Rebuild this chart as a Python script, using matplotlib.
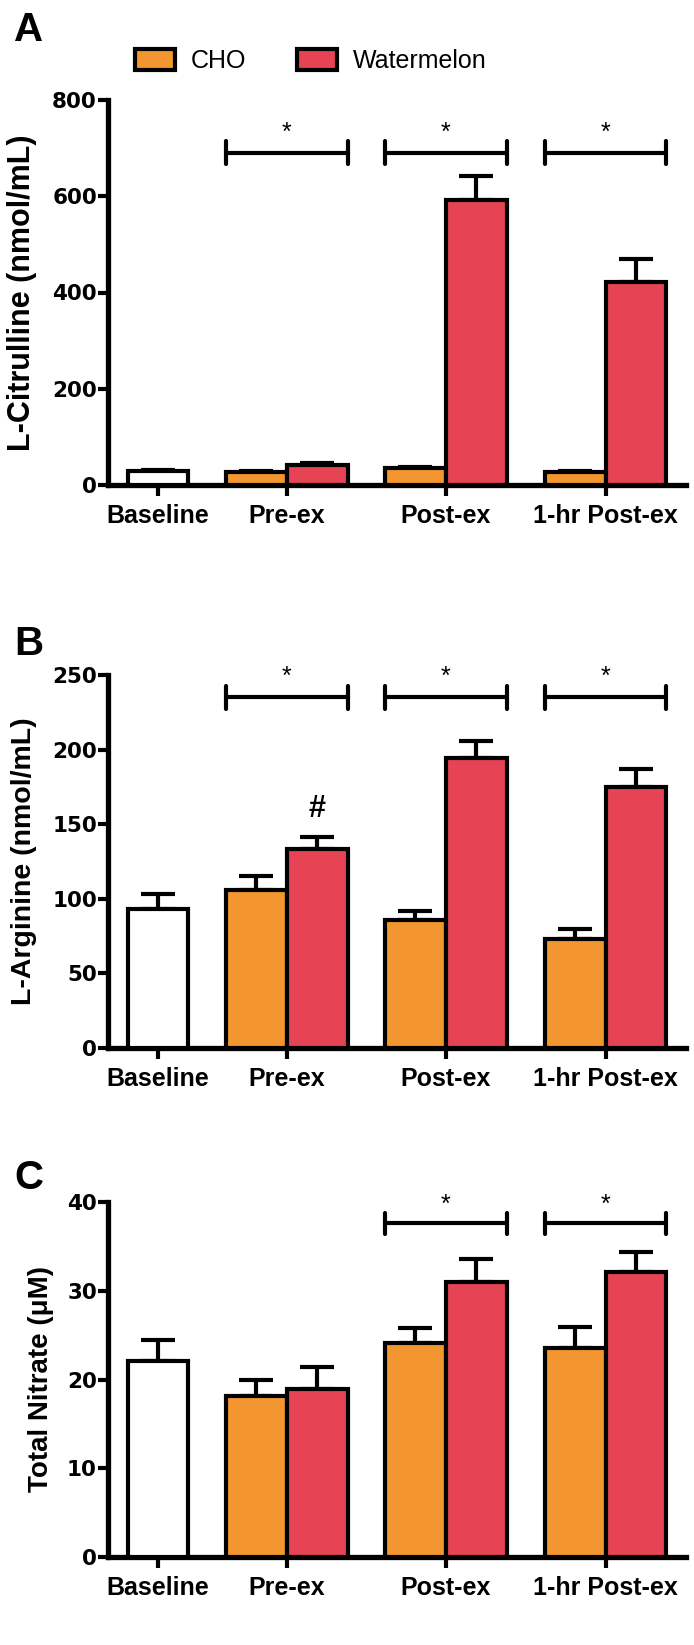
import matplotlib.pyplot as plt
from matplotlib.patches import Patch

plt.rcParams['font.family'] = ['Liberation Sans', 'DejaVu Sans']

groups = ['Baseline', 'Pre-ex', 'Post-ex', '1-hr Post-ex']
series = ['CHO', 'Watermelon']

# L-Citrulline (nmol/mL)
cit_base, cit_base_err = 30, 2
cit_cho = [28, 35, 27]
cit_cho_err = [2, 3, 2]
cit_wm = [41, 592, 422]
cit_wm_err = [4, 50, 48]

# L-Arginine (nmol/mL)
arg_base, arg_base_err = 93, 10
arg_cho = [106, 86, 73]
arg_cho_err = [9, 5.5, 6.5]
arg_wm = [133.5, 194.5, 175]
arg_wm_err = [8, 11.5, 12]

# Total Nitrate (uM)
nit_base, nit_base_err = 22.1, 2.4
nit_cho = [18.1, 24.1, 23.6]
nit_cho_err = [1.8, 1.7, 2.3]
nit_wm = [18.9, 31.0, 32.1]
nit_wm_err = [2.5, 2.6, 2.3]

cho_color = '#F3962F'
wm_color = '#E64454'

# group centres in bar-width units
xpos = [0, 2.115, 4.72, 7.34]
lw = 3.0
W, H = 694, 1645


def panel(ax, base, base_err, cho, cho_err, wm, wm_err, ymax, yticks,
          ylabel, sig_groups, bracket_y, star_y, ylabel_size, ylabel_x):
    ax.bar(xpos[0], base, width=1, color='white', edgecolor='black',
           linewidth=lw, zorder=3)
    ax.errorbar(xpos[0], base, yerr=[[0], [base_err]], fmt='none',
                ecolor='black', elinewidth=lw, capsize=12, capthick=lw, zorder=2)
    gx = xpos[1:]
    cx = [g - 0.5 for g in gx]
    wx = [g + 0.5 for g in gx]
    ax.bar(cx, cho, width=1, color=cho_color, edgecolor='black',
           linewidth=lw, zorder=3)
    ax.bar(wx, wm, width=1, color=wm_color, edgecolor='black',
           linewidth=lw, zorder=3)
    ax.errorbar(cx, cho, yerr=[[0] * 3, cho_err], fmt='none', ecolor='black',
                elinewidth=lw, capsize=12, capthick=lw, zorder=2)
    ax.errorbar(wx, wm, yerr=[[0] * 3, wm_err], fmt='none', ecolor='black',
                elinewidth=lw, capsize=12, capthick=lw, zorder=2)

    cap = ymax * 0.03
    for i in sig_groups:
        x0, x1 = xpos[i] - 1, xpos[i] + 1
        ax.plot([x0, x1], [bracket_y, bracket_y], color='black', lw=lw,
                solid_capstyle='butt', clip_on=False)
        for xx in (x0, x1):
            ax.plot([xx, xx], [bracket_y - cap, bracket_y + cap], color='black',
                    lw=lw, solid_capstyle='round', clip_on=False)
        ax.text(xpos[i], star_y, '*', ha='center', va='center', fontsize=18)

    ax.set_xlim(-0.82, 8.66)
    ax.set_ylim(0, ymax)
    ax.set_yticks(yticks)
    ax.set_xticks(xpos)
    ax.set_xticklabels(groups, fontsize=18, fontweight='bold')
    for t in ax.get_yticklabels():
        t.set_fontsize(15.5)
        t.set_fontweight('bold')
        t.set_family('DejaVu Sans')
    ax.set_ylabel(ylabel, fontsize=ylabel_size, fontweight='bold')
    ax.yaxis.set_label_coords((ylabel_x - 108) / 578, 0.5)
    for s in ['top', 'right']:
        ax.spines[s].set_visible(False)
    for s in ['left', 'bottom']:
        ax.spines[s].set_linewidth(3.8)
    ax.tick_params(axis='y', direction='out', length=7, width=3, pad=1)
    ax.tick_params(axis='x', direction='out', length=8, width=3, pad=6)


fig = plt.figure(figsize=(6.94, 16.45), dpi=100)


def add_axes(top, bottom):
    return fig.add_axes([108 / W, 1 - bottom / H, 578 / W, (bottom - top) / H])


axA = add_axes(100, 485)
axB = add_axes(675, 1048)
axC = add_axes(1202, 1557)

panel(axA, cit_base, cit_base_err, cit_cho, cit_cho_err, cit_wm, cit_wm_err,
      800, [0, 200, 400, 600, 800], 'L-Citrulline (nmol/mL)', [1, 2, 3],
      690, 731, 22, 37)
panel(axB, arg_base, arg_base_err, arg_cho, arg_cho_err, arg_wm, arg_wm_err,
      250, [0, 50, 100, 150, 200, 250], 'L-Arginine (nmol/mL)', [1, 2, 3],
      235, 249, 20.5, 37)
axB.text(xpos[1] + 0.5, 160, '#', ha='center', va='center', fontsize=22,
         fontweight='bold')
panel(axC, nit_base, nit_base_err, nit_cho, nit_cho_err, nit_wm, nit_wm_err,
      40, [0, 10, 20, 30, 40], 'Total Nitrate (\u03bcM)', [2, 3],
      37.6, 39.7, 20, 54)

for letter, top in zip(['A', 'B', 'C'], [11, 625, 1159]):
    fig.text(14 / W, 1 - top / H, letter, fontsize=29, fontweight='bold',
             ha='left', va='top')

handles = [Patch(facecolor=cho_color, edgecolor='black', linewidth=lw),
           Patch(facecolor=wm_color, edgecolor='black', linewidth=lw)]
fig.legend(handles, series, loc='center left', ncol=2,
           bbox_to_anchor=(135 / W, 1 - 61 / H), frameon=False, fontsize=18,
           handlelength=1.6, handleheight=0.95, handletextpad=0.65,
           columnspacing=2.0, borderpad=0, borderaxespad=0)

fig.savefig('out.png', dpi=100)
